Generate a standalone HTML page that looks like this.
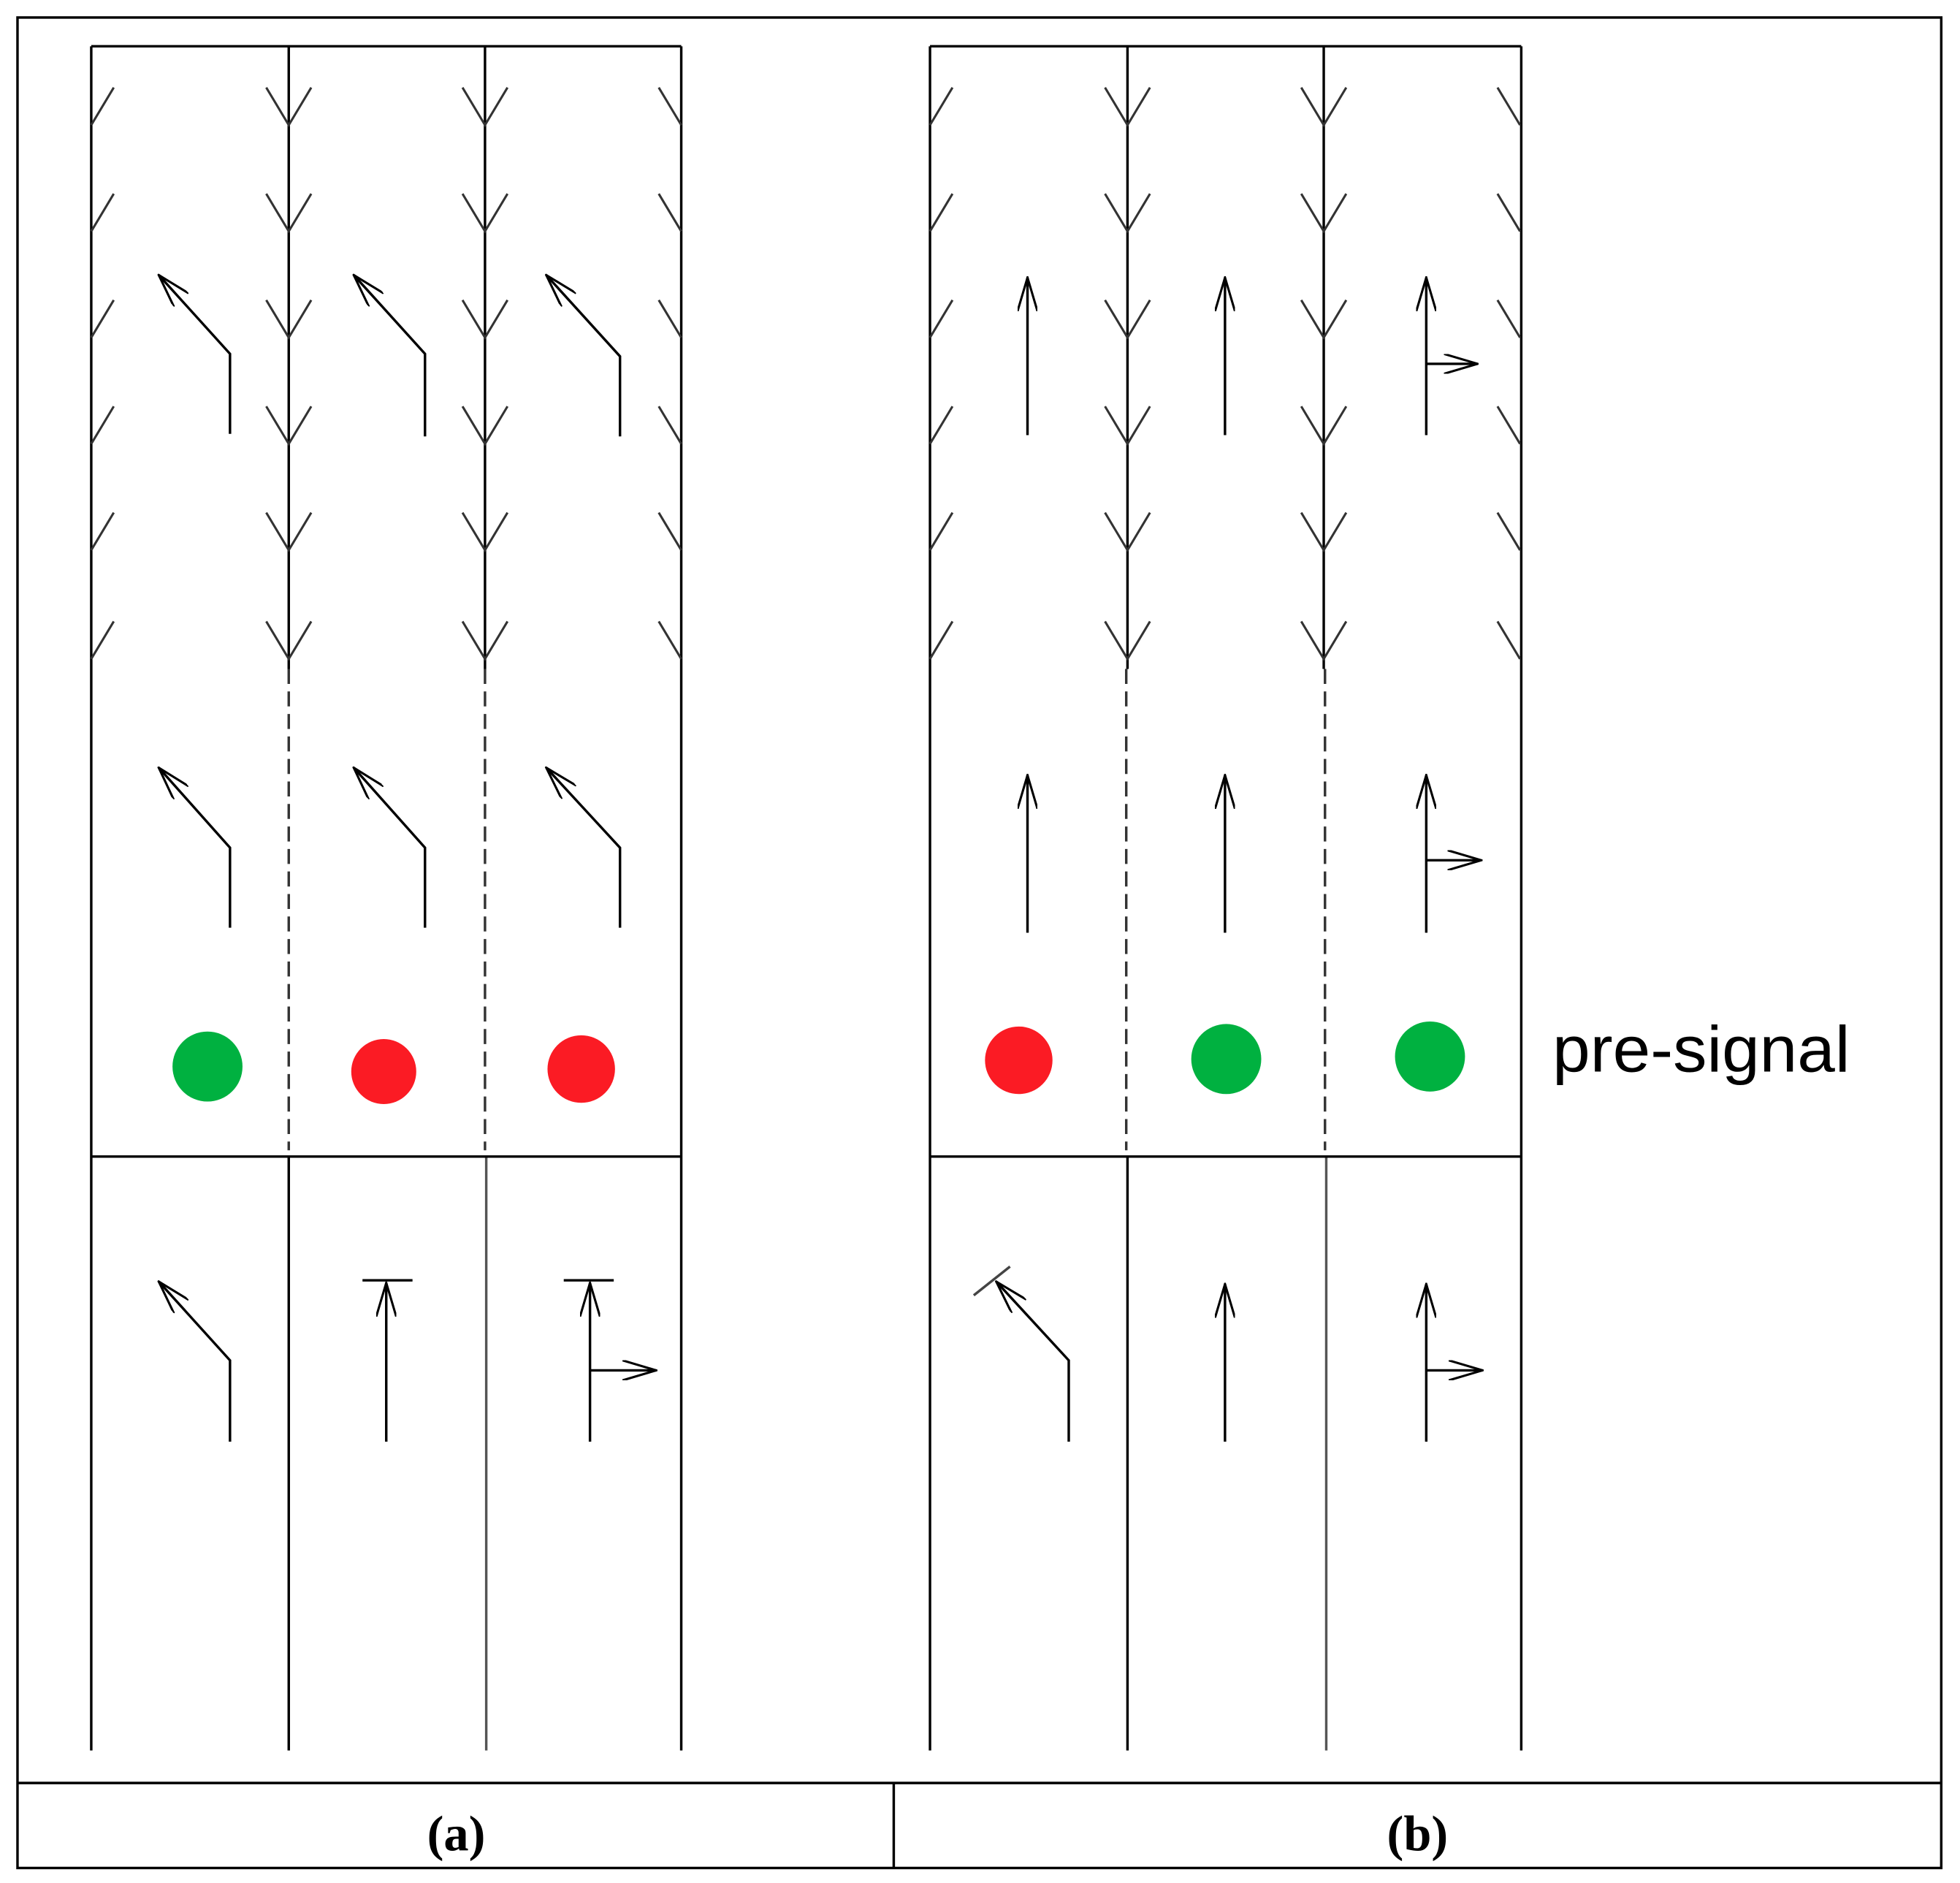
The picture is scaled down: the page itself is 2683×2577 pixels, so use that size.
<!DOCTYPE html>
<html><head><meta charset="utf-8"><style>html,body{margin:0;padding:0;background:#fff}svg{display:block}</style></head>
<body>
<svg width="2683" height="2577" viewBox="0 0 1568 1506" preserveAspectRatio="none" xmlns="http://www.w3.org/2000/svg">
<defs>
<marker id="ah" viewBox="0 0 28 16" markerWidth="28" markerHeight="16" refX="27" refY="8" orient="auto" markerUnits="userSpaceOnUse">
<path d="M0,0 L27,8 L0,16" fill="none" stroke="#000" stroke-width="1.8"/>
</marker>
<path id="V" d="M-18,-30 L0,0 L18,-30" fill="none" stroke="#333" stroke-width="1.8"/>
<path id="L" d="M0,0 L18,-30" fill="none" stroke="#333" stroke-width="1.8"/>
<path id="R" d="M0,0 L-18,-30" fill="none" stroke="#333" stroke-width="1.8"/>
<g id="col4">
<use href="#L" x="0"/><use href="#V" x="158"/><use href="#V" x="315"/><use href="#R" x="472"/>
</g>
<g id="chev">
<use href="#col4" y="100"/><use href="#col4" y="185"/><use href="#col4" y="270"/><use href="#col4" y="355"/><use href="#col4" y="440"/><use href="#col4" y="527"/>
</g>
</defs>
<rect width="1568" height="1506" fill="#fff"/>
<g fill="none" stroke="#000" stroke-width="2">
<rect x="14" y="14" width="1539" height="1480"/>
<line x1="14" y1="1426" x2="1553" y2="1426"/>
<line x1="715" y1="1426" x2="715" y2="1494"/>
<line x1="73" y1="37" x2="545" y2="37"/>
<line x1="73" y1="37" x2="73" y2="1400"/>
<line x1="545" y1="37" x2="545" y2="1400"/>
<line x1="231" y1="37" x2="231" y2="535"/>
<line x1="388" y1="37" x2="388" y2="535"/>
<line x1="231" y1="925" x2="231" y2="1400"/>
<line x1="389" y1="925" x2="389" y2="1400" stroke="#555"/>
<line x1="73" y1="925" x2="545" y2="925"/>
<line x1="231" y1="535" x2="231" y2="920" stroke-dasharray="12,6" stroke="#333"/>
<line x1="388" y1="535" x2="388" y2="920" stroke-dasharray="12,6" stroke="#333"/>
<line x1="744" y1="37" x2="1217" y2="37"/>
<line x1="744" y1="37" x2="744" y2="1400"/>
<line x1="1217" y1="37" x2="1217" y2="1400"/>
<line x1="902" y1="37" x2="902" y2="535"/>
<line x1="1059" y1="37" x2="1059" y2="535"/>
<line x1="902" y1="925" x2="902" y2="1400"/>
<line x1="1061" y1="925" x2="1061" y2="1400" stroke="#555"/>
<line x1="744" y1="925" x2="1217" y2="925"/>
<line x1="901" y1="535" x2="901" y2="920" stroke-dasharray="12,6" stroke="#333"/>
<line x1="1060" y1="535" x2="1060" y2="920" stroke-dasharray="12,6" stroke="#333"/>
</g>
<use href="#chev" x="73"/>
<use href="#chev" x="744"/>
<g fill="none" stroke="#000" stroke-width="2" marker-end="url(#ah)">
<polyline points="184,347 184,283 127,220"/>
<polyline points="340,349 340,283 283,220"/>
<polyline points="496,349 496,285 437,220"/>
<polyline points="184,742 184,678 127,614"/>
<polyline points="340,742 340,678 283,614"/>
<polyline points="496,742 496,678 437,614"/>
<polyline points="184,1153 184,1088 127,1025"/>
<line x1="309" y1="1153" x2="309" y2="1026"/>
<line x1="472" y1="1153" x2="472" y2="1026"/>
<line x1="472" y1="1096" x2="525" y2="1096"/>
<line x1="822" y1="348" x2="822" y2="222"/>
<line x1="980" y1="348" x2="980" y2="222"/>
<line x1="1141" y1="348" x2="1141" y2="222"/>
<line x1="1141" y1="291" x2="1182" y2="291"/>
<line x1="822" y1="746" x2="822" y2="620"/>
<line x1="980" y1="746" x2="980" y2="620"/>
<line x1="1141" y1="746" x2="1141" y2="620"/>
<line x1="1141" y1="688" x2="1185" y2="688"/>
<polyline points="855,1153 855,1088 797,1025"/>
<line x1="980" y1="1153" x2="980" y2="1027"/>
<line x1="1141" y1="1153" x2="1141" y2="1027"/>
<line x1="1141" y1="1096" x2="1186" y2="1096"/>
</g>
<g stroke="#000" stroke-width="2">
<line x1="290" y1="1024" x2="330" y2="1024"/>
<line x1="451" y1="1024" x2="491" y2="1024"/>
<line x1="779" y1="1036" x2="808" y2="1013" stroke="#444"/>
</g>
<circle cx="166" cy="853" r="28" fill="#00b140"/>
<circle cx="307" cy="857" r="26" fill="#fb1b24"/>
<circle cx="465" cy="855" r="27" fill="#fb1b24"/>
<circle cx="815" cy="848" r="27" fill="#fb1b24"/>
<circle cx="981" cy="847" r="28" fill="#00b140"/>
<circle cx="1144" cy="845" r="28" fill="#00b140"/>
<text x="1242" y="857" font-family="'Liberation Sans', sans-serif" font-size="52" textLength="238" lengthAdjust="spacingAndGlyphs">pre-signal</text>
<text x="365" y="1480" text-anchor="middle" font-family="'Liberation Serif', serif" font-size="40" font-weight="bold">(a)</text>
<text x="1134" y="1480" text-anchor="middle" font-family="'Liberation Serif', serif" font-size="40" font-weight="bold">(b)</text>
</svg>
</body></html>
